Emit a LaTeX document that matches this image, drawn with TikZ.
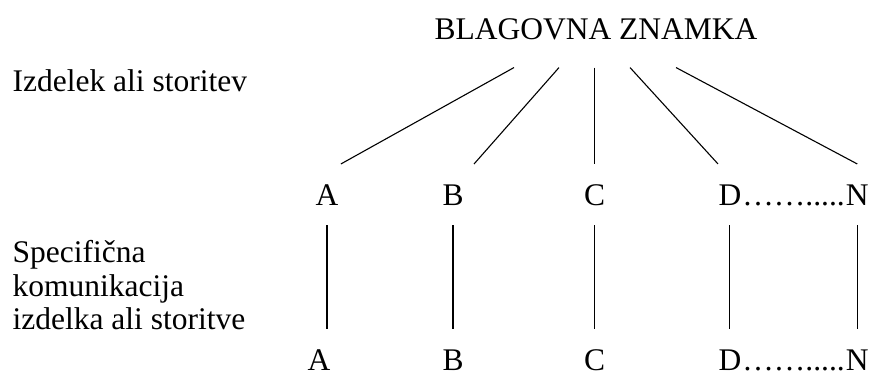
\documentclass[tikz,border=0pt]{standalone}
\usepackage{fontspec}
\setmainfont{Liberation Serif}
\usepackage{tikz}
\usetikzlibrary{positioning}

\begin{document}
\begin{tikzpicture}[x=1pt,y=-1pt,line width=1.1pt,
  txt/.style={font=\fontsize{31.5}{33.5}\selectfont,inner sep=0pt},
  letter/.style={txt,text height=21pt,text depth=0pt,inner ysep=19.5pt,anchor=base},
  letterlow/.style={txt,text height=21pt,text depth=0pt,anchor=base},
  vline/.style={shorten >=19.5pt}]
\useasboundingbox (0,0) rectangle (869,372);
%brand on top
\node [txt,text depth=0pt,inner ysep=28pt,anchor=base] (brand) at (596,39) {BLAGOVNA ZNAMKA};
\node [txt,anchor=base west] (izd) at (12,91) {Izdelek ali storitev};
\node [txt,anchor=north west,align=left] (spec) at (12,240) {Specifična\\komunikacija\\izdelka ali storitve};
%first row
\node [letter] (a1) at (327,205) {A};
\node [letter] (b1) at (453,205) {B};
\node [letter] (c1) at (594.5,205) {C};
\node [letter,anchor=base west] (d1) at (718,205) {D};
\node [txt,base right=0pt of d1] (dots1) {…….....};
\node [letter,base right=0pt of dots1] (n1) {N};
%second row
\node [letterlow] (a2) at (319,370) {A};
\node [letterlow] (b2) at (453,370) {B};
\node [letterlow] (c2) at (594.5,370) {C};
\node [letterlow,anchor=base west] (d2) at (718,370) {D};
\node [txt,base right=0pt of d2] (dots2) {…….....};
\node [letterlow,base right=0pt of dots2] (n2) {N};
%
\draw ([xshift=-82pt]brand.south) -- ([xshift=2pt]a1.north east);
\draw ([xshift=-37pt]brand.south) -- ([xshift=10pt]b1.north east);
\draw (brand.south -| c1) -- (c1.north);
\draw ([xshift=34pt]brand.south) -- (d1.north west);
\draw ([xshift=80pt]brand.south) -- (n1.north);
%
\draw [vline] (a1.south) -- (a1.south |- a2.north);
\draw [vline] (b1) -- (b2);
\draw [vline] (c1) -- (c2);
\draw [vline] (d1) -- (d2);
\draw [vline] (n1) -- (n2);
\end{tikzpicture}
\end{document}
